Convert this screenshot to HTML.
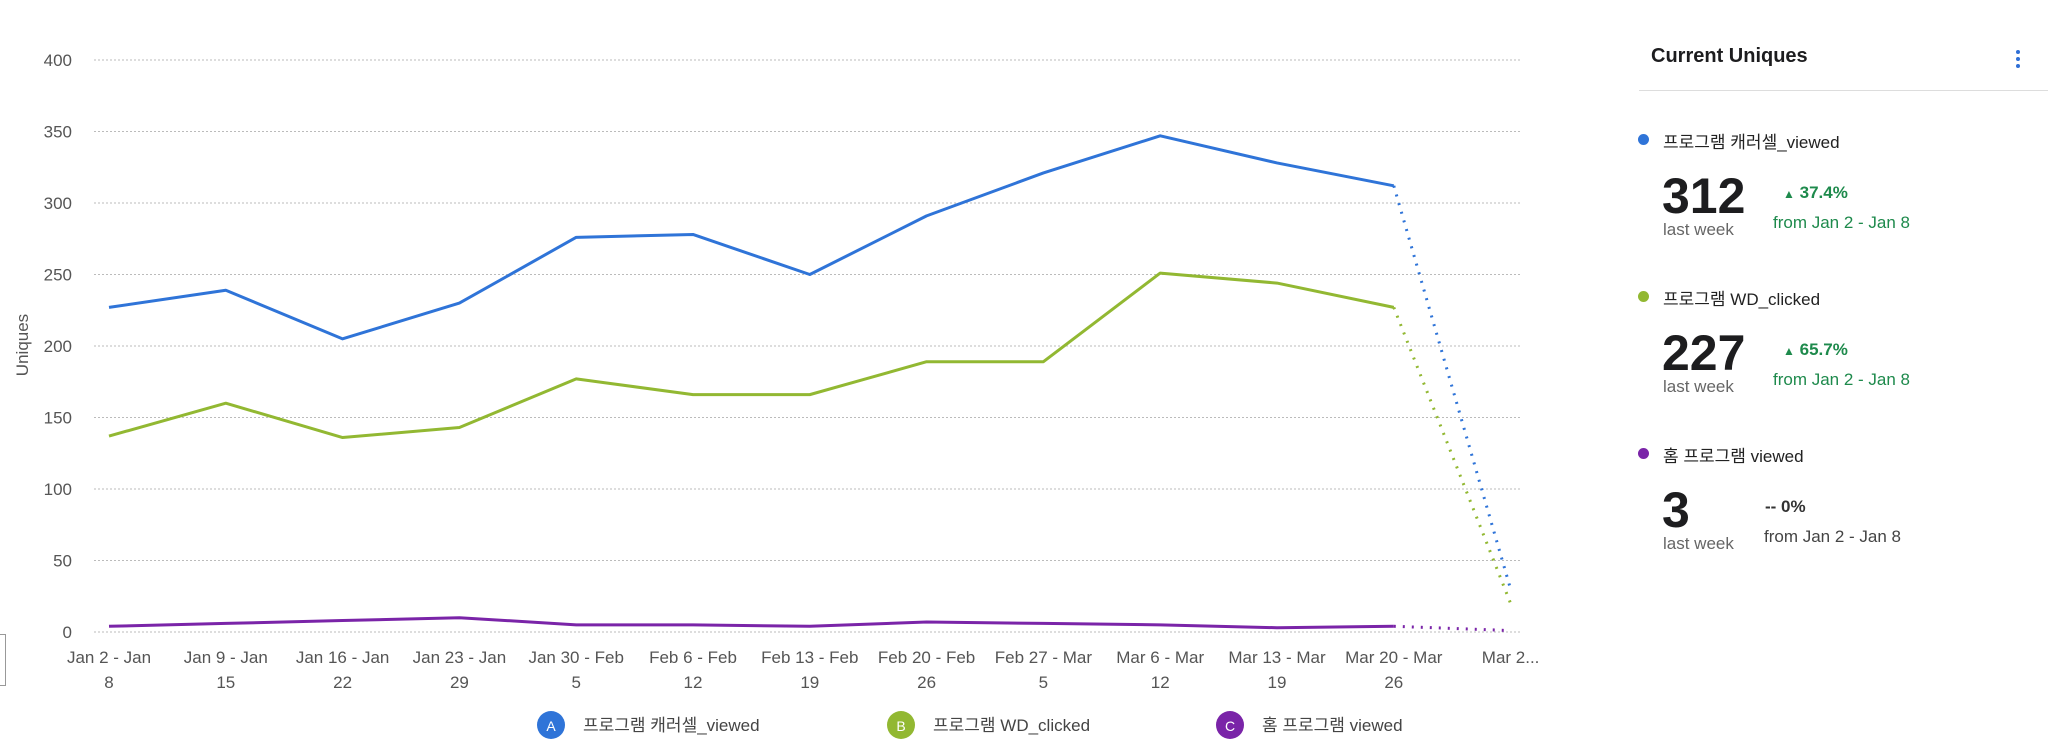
<!DOCTYPE html>
<html><head><meta charset="utf-8">
<style>
body{margin:0;width:2048px;height:756px;background:#fff;overflow:hidden;font-family:"Liberation Sans","Noto Sans CJK KR",sans-serif;position:relative}
.t{position:absolute;white-space:nowrap}
.lbl{font-size:17px;color:#222}
.big{font-size:50px;font-weight:bold;color:#1d1d1f}
.lw{font-size:17px;color:#666}
.pct{font-size:17px;font-weight:bold;color:#1e8a4c}
.from{font-size:17px;color:#1e8a4c}
</style></head><body>
<div style="position:absolute;left:-2px;top:634px;width:6px;height:50px;border:1px solid #999"></div>
<svg id="chart" width="1600" height="756" style="position:absolute;left:0;top:0"></svg>
<div class="t" style="left:1651px;top:45px;font-size:20px;font-weight:bold;color:#1d1d1f">Current Uniques</div>
<div class="t" style="left:2012px;top:48px;width:12px;height:24px">
<div style="position:absolute;left:4px;top:2px;width:4px;height:4px;border-radius:2px;background:#2f6fd6"></div>
<div style="position:absolute;left:4px;top:9px;width:4px;height:4px;border-radius:2px;background:#2f6fd6"></div>
<div style="position:absolute;left:4px;top:16px;width:4px;height:4px;border-radius:2px;background:#2f6fd6"></div></div>
<div style="position:absolute;left:1639px;top:90px;width:409px;height:1px;background:#ddd"></div>
<div id="panel"></div>
<script>
const categories=[["Jan 2 - Jan","8"],["Jan 9 - Jan","15"],["Jan 16 - Jan","22"],["Jan 23 - Jan","29"],["Jan 30 - Feb","5"],["Feb 6 - Feb","12"],["Feb 13 - Feb","19"],["Feb 20 - Feb","26"],["Feb 27 - Mar","5"],["Mar 6 - Mar","12"],["Mar 13 - Mar","19"],["Mar 20 - Mar","26"],["Mar 2...",""]];
const seriesA=[227,239,205,230,276,278,250,291,321,347,328,312,30];
const seriesB=[137,160,136,143,177,166,166,189,189,251,244,227,20];
const seriesC=[4,6,8,10,5,5,4,7,6,5,3,4,1];
const yTicks=[0,50,100,150,200,250,300,350,400];
const names=["프로그램 캐러셀_viewed","프로그램 WD_clicked","홈 프로그램 viewed"];
const colors=["#2f74d8","#92b832","#7a24a8"];
const ns="http://www.w3.org/2000/svg";
const svg=document.getElementById('chart');
const X0=94,X1=1521,Y0=632,Y400=60;
const x=i=>109+i*116.8;
const y=v=>Y0-(v/400)*(Y0-Y400);
function mk(t,a){const e=document.createElementNS(ns,t);for(const k in a)e.setAttribute(k,a[k]);svg.appendChild(e);return e;}
yTicks.forEach(v=>{
 const g=mk('line',{x1:X0,x2:X1,y1:y(v),y2:y(v),stroke:'#bbb','stroke-dasharray':'2,2'});
 
 
 const t=mk('text',{x:72,y:y(v)+6,'text-anchor':'end','font-size':17,fill:'#555'});t.textContent=v;
 
 
});
const yt=mk('text',{x:0,y:0,'font-size':17,fill:'#555','text-anchor':'middle',transform:'translate(28,345) rotate(-90)'});yt.textContent='Uniques';


categories.forEach((c,i)=>{
 c.forEach((s,j)=>{if(!s)return;const t=mk('text',{x:x(i),y:663+j*25,'text-anchor':'middle','font-size':17,fill:'#555'});t.textContent=s;
 
 });
});
[seriesA,seriesB,seriesC].forEach((s,k)=>{
 const n=s.length-1;
 const p=s.slice(0,n).map((v,i)=>x(i)+','+y(v)).join(' ');
 const l=mk('polyline',{points:p,fill:'none',stroke:colors[k],'stroke-width':3,'stroke-linejoin':'round'});
 
 
 const d=mk('line',{x1:x(n-1),y1:y(s[n-1]),x2:x(n),y2:y(s[n]),stroke:colors[k],'stroke-width':3,'stroke-dasharray':'2,7'});
 
 
});
const lx=[551,901,1230],L=['A','B','C'];
names.forEach((n,k)=>{
 const c=mk('circle',{cx:lx[k],cy:725,r:14,fill:colors[k]});
 
 
 const a=mk('text',{x:lx[k],y:731,'text-anchor':'middle','font-size':14,fill:'#fff'});a.textContent=L[k];
 const t=mk('text',{x:lx[k]+32,y:731,'font-size':17,fill:'#444'});t.textContent=n;
 
 
});
const big=[312,227,3],pct=["▲  37.4%","▲  65.7%","-- 0%"],panel=document.getElementById('panel');
names.forEach((n,k)=>{
 const top=128+k*157, g=k<2;
 const d=document.createElement('div');
 
 
 d.innerHTML=`<div style="position:absolute;left:1638px;top:${top+6}px;width:11px;height:11px;border-radius:6px;background:${colors[k]}"></div>
<div class="t lbl" style="left:1663px;top:${top}px">${n}</div>
<div class="t big" style="left:1662px;top:${top+39}px">${big[k]}</div>
<div class="t lw" style="left:1663px;top:${top+92}px">last week</div>
<div class="t pct" style="left:${g?1783:1765}px;top:${top+55}px;${g?'':'color:#333'}"><span style="font-size:${g?12:17}px">${pct[k].split(' ')[0]}</span> ${pct[k].split(' ').slice(-1)[0]}</div>
<div class="t from" style="left:${g?1773:1764}px;top:${top+85}px;${g?'':'color:#444'}">from Jan 2 - Jan 8</div>`;
 panel.appendChild(d);
});
</script>
</body></html>
